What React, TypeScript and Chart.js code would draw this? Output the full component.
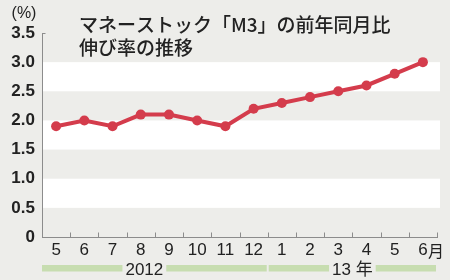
import React, { useEffect, useRef } from "react";
import { Chart, registerables } from "chart.js";

Chart.register(...registerables);

const categories = ["5", "6", "7", "8", "9", "10", "11", "12", "1", "2", "3", "4", "5", "6"];
const values = [1.9, 2.0, 1.9, 2.1, 2.1, 2.0, 1.9, 2.2, 2.3, 2.4, 2.5, 2.6, 2.8, 3.0];
const lastSuffix = "月";
const yearLabels = ["2012", "13 年"];
const yearStart = [0, 8];
const yearEnd = [7, 13];
const whiteBands = [[2.5, 3.0], [1.5, 2.0], [0.5, 1.0]];
const titleLines = ["マネーストック「M3」の前年同月比", "伸び率の推移"];
const unitLabel = "(%)";

const BG = "#ededea";
const RED = "#d43c4c";
const GREEN = "#c7ddb0";
const TEXT = "#222222";
const AXIS = "#8c8c8c";
const NUM_FONT = "'Liberation Sans', Arial, 'Noto Sans CJK JP', sans-serif";
const JP_FONT = "'Noto Sans CJK JP', sans-serif";

const deco = {
  id: "deco",
  beforeDraw(chart: any) {
    const { ctx, chartArea, scales } = chart;
    const { left, right, bottom } = chartArea;
    const x = scales.x;
    const y = scales.y;
    ctx.save();
    ctx.fillStyle = BG;
    ctx.fillRect(0, 0, chart.width, chart.height);
    ctx.fillStyle = "#ffffff";
    for (const [a, b] of whiteBands) {
      const y1 = y.getPixelForValue(b);
      const y2 = y.getPixelForValue(a);
      ctx.fillRect(left, y1, right + 3 - left, y2 - y1);
    }
    // year bands
    const step = x.getPixelForValue(1) - x.getPixelForValue(0);
    const bandY = 265;
    const bandH = 6.5;
    ctx.font = `17px ${NUM_FONT}`;
    ctx.textAlign = "center";
    ctx.textBaseline = "middle";
    yearLabels.forEach((lab, i) => {
      const x0 = x.getPixelForValue(yearStart[i]) - step / 2 + (i === 0 ? 0 : 1);
      const x1 = x.getPixelForValue(yearEnd[i]) + step / 2 - 1;
      ctx.fillStyle = GREEN;
      ctx.fillRect(x0, bandY, x1 - x0, bandH);
      const cx = i === 0 ? (x0 + x1) / 2 - 10 : (x0 + x1) / 2;
      const w = ctx.measureText(lab).width;
      ctx.fillStyle = BG;
      ctx.fillRect(cx - w / 2 - 3, bandY - 1, w + 6, bandH + 2);
      ctx.fillStyle = TEXT;
      ctx.fillText(lab, cx, 270);
    });
    ctx.restore();
  },
  afterDraw(chart: any) {
    const { ctx, chartArea, scales } = chart;
    const { left, right, top, bottom } = chartArea;
    const x = scales.x;
    const y = scales.y;
    ctx.save();
    // inward tick marks on x axis at category boundaries
    const step = x.getPixelForValue(1) - x.getPixelForValue(0);
    ctx.strokeStyle = AXIS;
    ctx.lineWidth = 1;
    ctx.beginPath();
    for (let i = 0; i < categories.length; i++) {
      const bx = Math.round(x.getPixelForValue(i) + step / 2) + 0.5;
      ctx.moveTo(bx, bottom);
      ctx.lineTo(bx, bottom - 4.5);
    }
    const ty = Math.round(y.getPixelForValue(3.5)) + 0.5;
    ctx.moveTo(left, ty);
    ctx.lineTo(left + 3.5, ty);
    ctx.stroke();
    // suffix after last label
    const lx = x.getPixelForValue(categories.length - 1);
    ctx.font = `17px ${NUM_FONT}`;
    const w = ctx.measureText(categories[categories.length - 1]).width;
    ctx.font = `16px ${JP_FONT}`;
    ctx.fillStyle = TEXT;
    ctx.textAlign = "left";
    ctx.textBaseline = "middle";
    ctx.fillText(lastSuffix, lx + w / 2 + 0.5, 250.5);
    // title
    ctx.font = `500 19px ${JP_FONT}`;
    ctx.textAlign = "left";
    ctx.fillText(titleLines[0], 79, 25);
    ctx.fillText(titleLines[1], 79, 48);
    // unit
    ctx.font = `16px ${NUM_FONT}`;
    ctx.textAlign = "center";
    ctx.fillText(unitLabel, 24, 14);
    ctx.restore();
  },
};

export default function App() {
  const ref = useRef<HTMLCanvasElement | null>(null);
  useEffect(() => {
    document.body.style.margin = "0";
    const canvas = ref.current;
    if (!canvas) return;
    const chart = new Chart(canvas, {
      type: "line",
      data: {
        labels: categories,
        datasets: [
          {
            data: values,
            borderColor: RED,
            backgroundColor: RED,
            borderWidth: 4,
            pointRadius: 5,
            pointBorderWidth: 0,
            pointBackgroundColor: RED,
            tension: 0,
          },
        ],
      },
      options: {
        animation: false,
        responsive: false,
        maintainAspectRatio: false,
        devicePixelRatio: 1,
        layout: { padding: { top: 33, right: 13, left: 0, bottom: 0 } },
        plugins: { legend: { display: false }, tooltip: { enabled: false }, title: { display: false } },
        scales: {
          x: {
            offset: true,
            grid: { offset: true, drawOnChartArea: false, drawTicks: false, display: true },
            border: { display: true, color: AXIS, width: 1 },
            ticks: {
              color: TEXT,
              font: { size: 17, family: NUM_FONT },
              padding: 3,
              autoSkip: false,
              maxRotation: 0,
            },
            afterFit: (s: any) => {
              s.height = 43;
            },
          },
          y: {
            min: 0,
            max: 3.5,
            grid: { drawOnChartArea: false, drawTicks: false, display: true },
            border: { display: true, color: AXIS, width: 1 },
            ticks: {
              stepSize: 0.5,
              color: TEXT,
              font: { size: 17, weight: "bold", family: NUM_FONT },
              padding: 7,
              callback: (v: any) => (Number(v) === 0 ? "0" : Number(v).toFixed(1)),
            },
            afterFit: (s: any) => {
              s.width = 42;
            },
          },
        },
      },
      plugins: [deco],
    });
    return () => chart.destroy();
  }, []);
  return (
    <div style={{ width: 450, height: 280 }}>
      <canvas ref={ref} width={450} height={280} style={{ display: "block" }} />
    </div>
  );
}
